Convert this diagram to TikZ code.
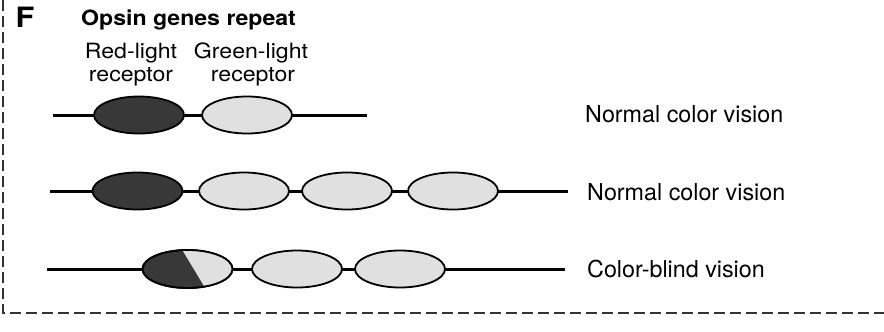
\documentclass[tikz,border=0pt]{standalone}
\usepackage{fontspec}
\setmainfont{TeX Gyre Heros}
\usetikzlibrary{shapes.geometric}
\definecolor{genedark}{gray}{0.22}
\definecolor{genelight}{gray}{0.88}
% slightly widened lettering for the headings
\newcommand{\widetext}[1]{\scalebox{1.1}[1]{#1}}
\tikzset{
  backbone/.style={line width=3bp, black},
  gene/.style={ellipse, draw=black, line width=1.8bp, inner sep=0pt,
               minimum width=90bp, minimum height=37bp},
  redgene/.style={gene, fill=genedark},
  greengene/.style={gene, fill=genelight},
  rowlabel/.style={anchor=base west, inner sep=0pt,
                   font=\fontsize{23.3bp}{28bp}\selectfont},
  headlabel/.style={anchor=base, inner sep=0pt,
                    font=\fontsize{21bp}{25bp}\selectfont},
  frameline/.style={line width=1.4bp, black!80, dash pattern=on 11bp off 5bp}
}
\begin{document}
\begin{tikzpicture}[x=1bp, y=-1bp]
\useasboundingbox (0,0) rectangle (884,331);

% panel frame (left and bottom dashed edges)
\coordinate (ftop) at (3,0);
\coordinate (fcorner) at (3,313);
\coordinate (fright) at (884,313);
\draw[frameline] (ftop) -- (fcorner) -- (fright);

% headings
\node[anchor=base west, inner sep=0pt, font=\bfseries\fontsize{28bp}{32bp}\selectfont] (panel) at (15.5,27) {\widetext{F}};
\node[anchor=base west, inner sep=0pt, font=\bfseries\fontsize{21bp}{25bp}\selectfont] (title) at (81,25) {\widetext{Opsin genes repeat}};
\node[headlabel] (redA) at (131,58) {\widetext{Red-light}};
\node[headlabel] (redB) at (131,81) {\widetext{receptor}};
\node[headlabel] (grnA) at (251,58) {\widetext{Green-light}};
\node[headlabel] (grnB) at (253,81) {\widetext{receptor}};

% row 1: one red and one green gene
\coordinate (s1) at (53,115);
\coordinate (e1) at (367,115);
\draw[backbone] (s1) -- (e1);
\node[redgene] (r1) at (139,115) {};
\node[greengene] (g1a) at (247,115) {};
\node[rowlabel] (lab1) at (585,122) {Normal color vision};

% row 2: one red and three green genes
\coordinate (s2) at (50,191);
\coordinate (e2) at (568,191);
\draw[backbone] (s2) -- (e2);
\node[redgene] (r2) at (137.5,191) {};
\node[greengene] (g2a) at (244,191) {};
\node[greengene] (g2b) at (347,191) {};
\node[greengene] (g2c) at (453,191) {};
\node[rowlabel] (lab2) at (587,200) {Normal color vision};

% row 3: hybrid red/green gene and two green genes
\coordinate (s3) at (47,269);
\coordinate (e3) at (565,269);
\draw[backbone] (s3) -- (e3);
\node[redgene, minimum height=38bp] (h3) at (187.5,269) {};
\begin{scope}
  \clip (h3.center) ellipse (45bp and 19bp);
  \fill[genelight] ([shift={(-7,-22)}]h3.center) -- ([shift={(19.5,22)}]h3.center)
    -- ([shift={(50,22)}]h3.center) -- ([shift={(50,-22)}]h3.center) -- cycle;
\end{scope}
\draw[black, line width=1.8bp] (h3.center) ellipse (45bp and 19bp);
\node[greengene] (g3a) at (297,269) {};
\node[greengene] (g3b) at (400,269) {};
\node[rowlabel] (lab3) at (587,277) {Color-blind vision};
\end{tikzpicture}
\end{document}
